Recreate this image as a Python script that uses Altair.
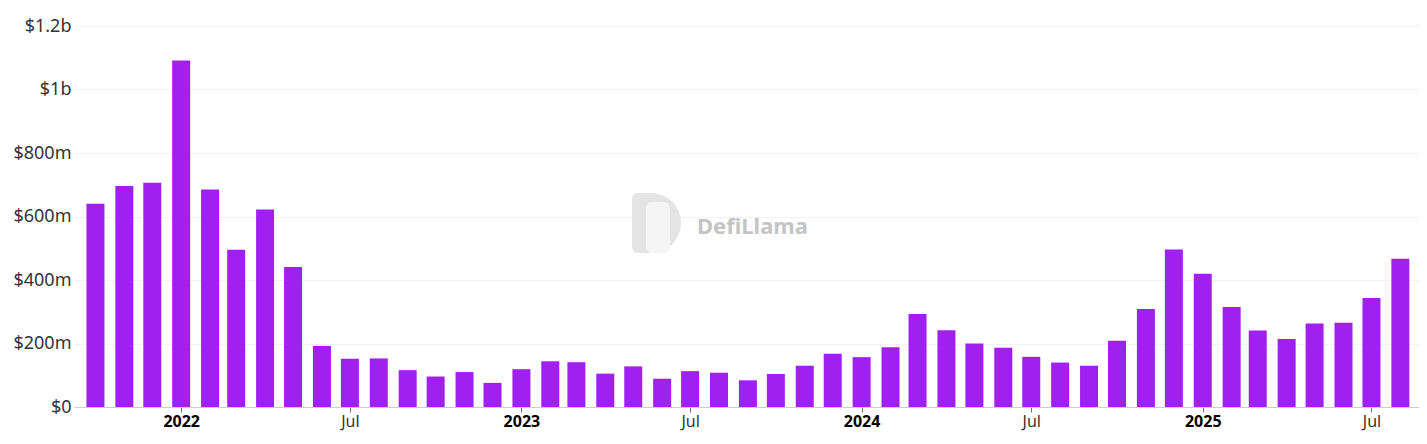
import altair as alt
import pandas as pd
import math

months = [
    "2021-10-01", "2021-11-01", "2021-12-01",
    "2022-01-01", "2022-02-01", "2022-03-01", "2022-04-01", "2022-05-01", "2022-06-01",
    "2022-07-01", "2022-08-01", "2022-09-01", "2022-10-01", "2022-11-01", "2022-12-01",
    "2023-01-01", "2023-02-01", "2023-03-01", "2023-04-01", "2023-05-01", "2023-06-01",
    "2023-07-01", "2023-08-01", "2023-09-01", "2023-10-01", "2023-11-01", "2023-12-01",
    "2024-01-01", "2024-02-01", "2024-03-01", "2024-04-01", "2024-05-01", "2024-06-01",
    "2024-07-01", "2024-08-01", "2024-09-01", "2024-10-01", "2024-11-01", "2024-12-01",
    "2025-01-01", "2025-02-01", "2025-03-01", "2025-04-01", "2025-05-01", "2025-06-01",
    "2025-07-01", "2025-08-01",
]
# values in millions of USD
values = [
    640, 696, 706,
    1091, 685, 495, 622, 441, 192,
    152, 153, 116, 96, 110, 76,
    119, 144, 141, 105, 128, 89,
    113, 108, 84, 104, 130, 168,
    157, 188, 293, 242, 200, 187,
    158, 140, 130, 209, 309, 496,
    420, 315, 241, 214, 263, 265,
    343, 467,
]
tick_dates = [
    "2022-01-01", "2022-07-01", "2023-01-01", "2023-07-01",
    "2024-01-01", "2024-07-01", "2025-01-01", "2025-07-01",
]

df = pd.DataFrame({"month": months, "value": values})

FONT = "Noto Sans"

tick_values = [
    alt.DateTime(year=int(d[:4]), month=int(d[5:7]), date=1, utc=True) for d in tick_dates
]

no_stroke = alt.ViewBackground(stroke="transparent", strokeWidth=0)

bars = alt.Chart(df).mark_bar(color="#A020F0", size=18).encode(
    x=alt.X(
        "month:T",
        title=None,
        scale=alt.Scale(
            type="utc",
            padding=0,
            domain=[
                alt.DateTime(year=2021, month=9, date=8, utc=True),
                alt.DateTime(year=2025, month=8, date=21, utc=True),
            ],
        ),
        axis=alt.Axis(
            values=tick_values,
            labelExpr="utcmonth(datum.value) == 0 ? utcFormat(datum.value, '%Y') : 'Jul'",
            labelFontWeight={
                "condition": {"test": "utcmonth(datum.value) == 0", "value": "bold"},
                "value": "normal",
            },
            labelColor={
                "condition": {"test": "utcmonth(datum.value) == 0", "value": "#000000"},
                "value": "#333333",
            },
            labelFont=FONT,
            labelFontSize=16,
            labelPadding=1,
            labelFlush=False,
            tickSize=5,
            tickColor="#6e7079",
            domainColor="#cccccc",
            grid=False,
        ),
    ),
    y=alt.Y(
        "value:Q",
        title=None,
        scale=alt.Scale(domain=[0, 1200], nice=False),
        axis=alt.Axis(
            values=[0, 200, 400, 600, 800, 1000, 1200],
            labelExpr="datum.value == 0 ? '$0' : (datum.value >= 1000 ? '$' + (datum.value / 1000) + 'b' : '$' + datum.value + 'm')",
            labelFont=FONT,
            labelFontSize=18,
            labelColor="#333333",
            labelPadding=3,
            ticks=False,
            domain=False,
            gridColor="#f2f2f2",
            gridWidth=1,
        ),
    ),
)

one = pd.DataFrame({"t": ["DefiLlama"]})

logo_rect = alt.Chart(one).mark_rect(color="#e4e4e4", cornerRadiusTopLeft=6, cornerRadiusBottomLeft=6).encode(
    x=alt.value(558), x2=alt.value(578), y=alt.value(167), y2=alt.value(227)
)
logo_arc = alt.Chart(one).mark_arc(color="#e4e4e4", theta=0, theta2=math.pi, radius=30).encode(
    x=alt.value(577), y=alt.value(197)
)
llama = alt.Chart(one).mark_rect(color="#f5f5f5", cornerRadius=6).encode(
    x=alt.value(572), x2=alt.value(596), y=alt.value(176), y2=alt.value(227)
)

wm = alt.Chart(one).mark_text(
    font=FONT, fontSize=22, fontWeight="bold", color="#c4c4c4", align="left", baseline="middle"
).encode(x=alt.value(623), y=alt.value(201), text="t:N")

chart = alt.layer(bars, logo_rect, logo_arc, llama, wm).properties(
    width=1345,
    height=381,
    padding={"left": 66, "top": 18, "right": 0, "bottom": 24},
    autosize="none",
    background="white",
    view=no_stroke,
).configure_view(strokeWidth=0, stroke="transparent")

chart.save("out.html", embed_options={"renderer": "svg", "actions": False})
